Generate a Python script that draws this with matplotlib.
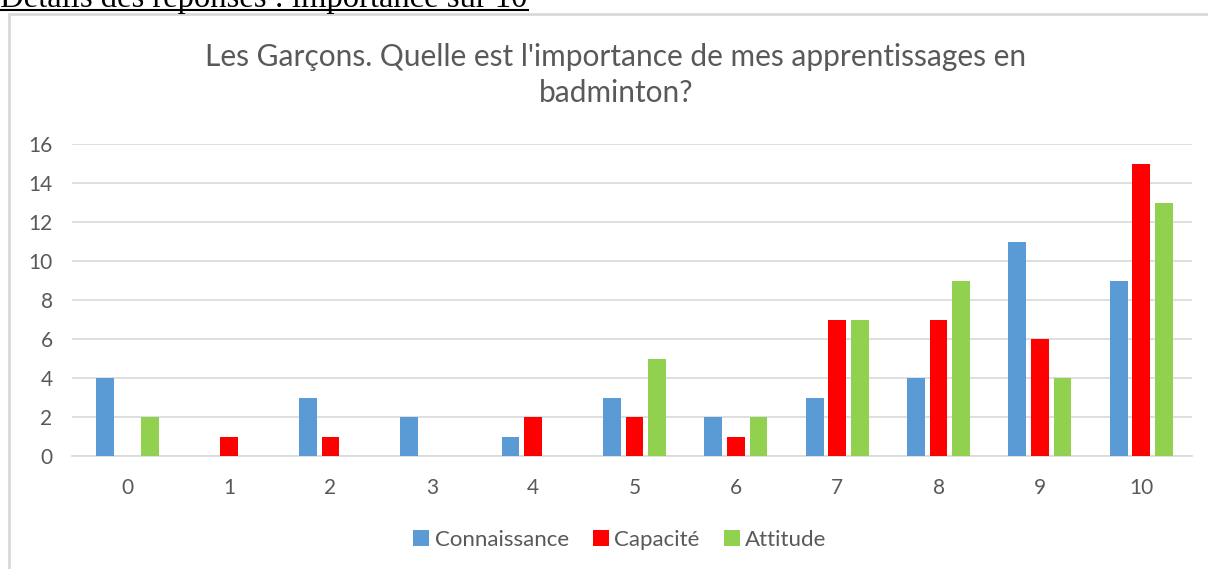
import numpy as np
import matplotlib.pyplot as plt
from matplotlib.patches import Rectangle

plt.rcParams['font.family'] = ['Lato', 'DejaVu Sans']

scores = [0, 1, 2, 3, 4, 5, 6, 7, 8, 9, 10]
connaissance = [4, 0, 3, 2, 1, 3, 2, 3, 4, 11, 9]
capacite = [0, 1, 1, 0, 2, 2, 1, 7, 7, 6, 15]
attitude = [2, 0, 0, 0, 0, 5, 2, 7, 9, 4, 13]

series = [('Connaissance', connaissance, '#5B9BD5'),
          ('Capacité', capacite, '#FF0000'),
          ('Attitude', attitude, '#92D050')]

fig = plt.figure(figsize=(12.08, 5.69), dpi=100)

# page header above the chart frame (cut off at top)
fig.text(0.0, 1.0 - 7 / 569, 'Détails des réponses : importance sur 10',
         family='Liberation Serif', fontsize=23.5, color='black', va='baseline')
fig.add_artist(plt.Line2D([0.0, 528 / 1208], [1 - 9.5 / 569, 1 - 9.5 / 569],
                          color='black', lw=1.5))

# chart frame
frame = Rectangle((9 / 1208, -0.1), 1.2, 1 - 14 / 569 + 0.1, transform=fig.transFigure,
                  fill=False, edgecolor='#D9D9D9', lw=2)
fig.add_artist(frame)

ax = fig.add_axes([72 / 1208, 1 - 456 / 569, (1192 - 72) / 1208, (456 - 144) / 569])

x = np.arange(len(scores))
width = 0.175
offset = 0.223
for i, (name, vals, col) in enumerate(series):
    ax.bar(x + (i - 1) * offset, vals, width, color=col, label=name, zorder=3)

ax.set_ylim(0, 16)
ax.set_yticks(range(0, 17, 2))
ax.set_xlim(-0.55, 10.5)
ax.set_xticks(x)
ax.set_xticklabels([str(s) for s in scores])
ax.grid(axis='y', color='#D9D9D9', lw=1.2, zorder=0)
for s in ['top', 'right', 'left']:
    ax.spines[s].set_visible(False)
ax.spines['bottom'].set_color('#D9D9D9')
ax.spines['bottom'].set_linewidth(1.2)
ax.tick_params(length=0, labelsize=15, colors='#595959')
ax.tick_params(axis='x', pad=16)
ax.tick_params(axis='y', pad=14)

fig.text(616 / 1208, 1 - 75 / 569,
         "Les Garçons. Quelle est l'importance de mes apprentissages en\nbadminton?",
         ha='center', va='center', fontsize=21.5, color='#595959', linespacing=1.36)

leg = ax.legend(loc='center', bbox_to_anchor=(620 / 1208, 1 - 540 / 569),
                bbox_transform=fig.transFigure, ncol=3, frameon=False,
                fontsize=16, handlelength=0.7, handleheight=0.7,
                handletextpad=0.25, columnspacing=1.1)
for t in leg.get_texts():
    t.set_color('#595959')

fig.savefig('out.png', dpi=100)
